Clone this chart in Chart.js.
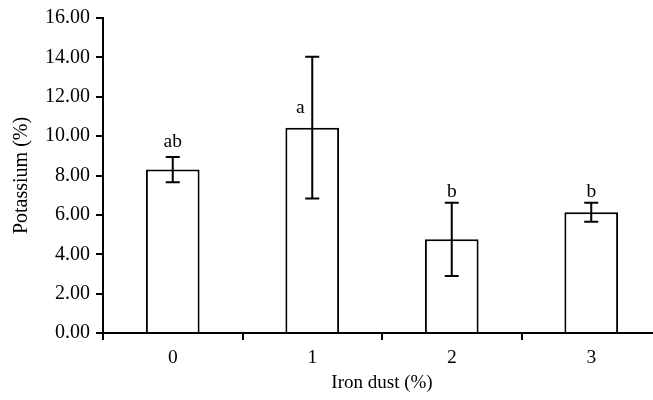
<!DOCTYPE html>
<html>
<head>
<meta charset="utf-8">
<script src="https://cdn.jsdelivr.net/npm/chart.js@4/dist/chart.umd.min.js"></script>
<style>
  html, body { margin: 0; padding: 0; background: #fff; overflow: hidden; }
  #wrap { width: 653px; height: 400px; overflow: hidden; }
</style>
</head>
<body>
<div id="wrap"><canvas id="potassium" width="663" height="400"></canvas></div>
<script>
const ironDust = ['0', '1', '2', '3']
const potassium = [8.3, 10.43, 4.76, 6.13]
const errors = [0.64, 3.6, 1.86, 0.48]
const letters = ['ab', 'a', 'b', 'b']
// where each letter sits, in % potassium
const letterAt = [9.45, 11.15, 6.9, 6.9]
const yTicks = [0, 2, 4, 6, 8, 10, 12, 14, 16]

const serif = '"Liberation Serif", "Times New Roman", serif'

const errorBars = {
    id: 'errorBars',
    afterDatasetsDraw(chart) {
        const ctx = chart.ctx
        const y = chart.scales.y
        const meta = chart.getDatasetMeta(0)
        ctx.save()
        ctx.strokeStyle = '#000'
        ctx.lineWidth = 2
        ctx.fillStyle = '#000'
        ctx.font = '19.5px ' + serif
        ctx.textAlign = 'center'
        ctx.textBaseline = 'alphabetic'
        meta.data.forEach((bar, i) => {
            const top = y.getPixelForValue(potassium[i] + errors[i])
            const bot = y.getPixelForValue(potassium[i] - errors[i])
            ctx.beginPath()
            ctx.moveTo(bar.x, top); ctx.lineTo(bar.x, bot)
            ctx.moveTo(bar.x - 7, top); ctx.lineTo(bar.x + 7, top)
            ctx.moveTo(bar.x - 7, bot); ctx.lineTo(bar.x + 7, bot)
            ctx.stroke()
            // letter for bar 1 sits left of its long whisker
            const dx = (letterAt[i] < potassium[i] + errors[i]) ? -12 : 0
            ctx.fillText(letters[i], bar.x + dx, y.getPixelForValue(letterAt[i]))
        })
        ctx.restore()
    }
}

new Chart(document.getElementById('potassium'), {
    type: 'bar',
    data: {
        labels: ironDust,
        datasets: [{
            data: potassium,
            backgroundColor: '#fff',
            borderColor: '#000',
            borderWidth: 2,
            barPercentage: 0.385,
            categoryPercentage: 1
        }]
    },
    options: {
        responsive: false,
        devicePixelRatio: 1,
        animation: false,
        layout: { padding: { top: 17, right: 2, left: 0, bottom: 0 } },
        plugins: { legend: { display: false }, tooltip: { enabled: false } },
        scales: {
            x: {
                offset: true,
                afterFit: (s) => { s.height = 67 },
                grid: { offset: true, drawOnChartArea: false, drawTicks: true, tickLength: 7, color: '#000', lineWidth: 2 },
                border: { display: true, color: '#000', width: 2 },
                ticks: { color: '#000', font: { family: serif, size: 19.5 }, padding: 6 },
                title: { display: true, text: 'Iron dust (%)', color: '#000', font: { family: serif, size: 19 }, padding: { top: 6, bottom: 6 } }
            },
            y: {
                min: 0,
                max: 16,
                afterFit: (s) => { s.width = 103 },
                afterBuildTicks: (s) => { s.ticks = yTicks.map(v => ({ value: v })) },
                grid: { drawOnChartArea: false, drawTicks: true, tickLength: 7, color: '#000', lineWidth: 2 },
                border: { display: true, color: '#000', width: 2 },
                ticks: { color: '#000', font: { family: serif, size: 20 }, padding: 6, callback: (v) => Number(v).toFixed(2) },
                title: { display: true, text: 'Potassium (%)', color: '#000', font: { family: serif, size: 20 }, padding: { top: 10, bottom: 0 } }
            }
        }
    },
    plugins: [errorBars]
})
</script>
</body>
</html>
